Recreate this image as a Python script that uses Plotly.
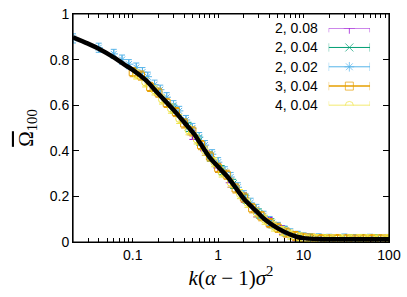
import plotly.graph_objects as go

# ---------------- data ----------------
curve_x = [0.02, 0.03, 0.04, 0.06, 0.08, 0.1, 0.14, 0.2, 0.3, 0.4, 0.52, 0.62, 0.8, 1.0, 1.3, 1.7,
           2.0, 2.8, 3.5, 5.0, 7.0, 8.5, 10, 15, 20, 30, 50, 100]
curve_y = [0.898, 0.87, 0.848, 0.81, 0.778, 0.755, 0.712, 0.65, 0.58, 0.525, 0.475, 0.432, 0.37, 0.33,
           0.284, 0.225, 0.19, 0.135, 0.10, 0.06, 0.033, 0.022, 0.017, 0.013, 0.012, 0.012, 0.012, 0.012]

s1_x = [0.5, 0.7, 1, 1.4, 2, 2.8, 4, 5.6, 8, 11, 16, 22, 32, 45, 63, 90]
s1_y = [0.47, 0.40, 0.325, 0.26, 0.195, 0.13, 0.087, 0.052, 0.025, 0.016, 0.013, 0.012, 0.013, 0.012, 0.012, 0.013]

s2_x = [0.3, 0.45, 0.6, 0.8, 1.1, 1.5, 2.1, 3, 4.2, 6, 8.5, 12, 17, 25, 35, 50, 70, 100]
s2_y = [0.585, 0.505, 0.445, 0.375, 0.315, 0.255, 0.19, 0.125, 0.082, 0.047, 0.024, 0.015, 0.013, 0.012,
        0.012, 0.013, 0.012, 0.012]

s3_x = [0.02, 0.04, 0.06, 0.075, 0.09, 0.11, 0.13, 0.15, 0.18, 0.21, 0.25, 0.3, 0.35, 0.42, 0.5, 0.6, 0.7,
        0.85, 1.0, 1.2, 1.4, 1.7, 2.0, 2.4, 2.8, 3.4, 4.0, 5, 6, 7, 8.5, 10, 15, 20, 30, 40, 60, 80, 100]
s3_y = [0.893, 0.852, 0.825, 0.80, 0.78, 0.765, 0.745, 0.725, 0.69, 0.668, 0.635, 0.60, 0.575, 0.535, 0.50,
        0.46, 0.425, 0.385, 0.35, 0.31, 0.285, 0.24, 0.205, 0.172, 0.145, 0.115, 0.092, 0.066, 0.05, 0.038,
        0.027, 0.02, 0.016, 0.014, 0.015, 0.013, 0.014, 0.012, 0.013]

s4_x = [0.1, 0.125, 0.16, 0.2, 0.25, 0.32, 0.4, 0.5, 0.63, 0.8, 1.0, 1.26, 1.6, 2.0, 2.5, 3.2, 4.0, 5.0,
        6.3, 8, 10, 12.6, 16, 20, 25, 32, 40, 50, 63, 80, 100]
s4_y = [0.745, 0.73, 0.68, 0.655, 0.61, 0.57, 0.52, 0.485, 0.425, 0.375, 0.325, 0.295, 0.235, 0.195, 0.148,
        0.113, 0.083, 0.062, 0.041, 0.026, 0.018, 0.015, 0.013, 0.012, 0.013, 0.012, 0.011, 0.012, 0.013,
        0.012, 0.012]

s5_x = [0.11, 0.14, 0.18, 0.22, 0.28, 0.35, 0.45, 0.56, 0.7, 0.9, 1.1, 1.4, 1.8, 2.2, 2.8, 3.5, 4.5, 5.6,
        7, 9, 11, 14, 18, 22, 28, 35, 45, 56, 70, 90, 100]
s5_y = [0.735, 0.70, 0.665, 0.625, 0.585, 0.54, 0.49, 0.45, 0.40, 0.35, 0.305, 0.26, 0.21, 0.172, 0.13,
        0.098, 0.068, 0.048, 0.032, 0.02, 0.015, 0.013, 0.012, 0.012, 0.011, 0.012, 0.013, 0.012, 0.011,
        0.012, 0.012]

err = 0.02
labels = ["2, 0.08", "2, 0.04", "2, 0.02", "3, 0.04", "4, 0.04"]
colors = ["#9400d3", "#009e73", "#56b4e9", "#e69f00", "#f0e442"]
symbols = ["cross-thin-open", "x-thin-open", "asterisk-open", "square-open", "circle-open"]
series = [(s1_x, s1_y), (s2_x, s2_y), (s3_x, s3_y), (s4_x, s4_y), (s5_x, s5_y)]
major_ticks = [0.1, 1, 10, 100]
major_text = ["0.1", "1", "10", "100"]

fig = go.Figure()
for (sx, sy), c, sym in zip(series, colors, symbols):
    fig.add_trace(go.Scatter(
        x=sx, y=sy, mode="markers",
        marker=dict(symbol=sym, size=7, color=c, line=dict(color=c, width=1)),
        error_y=dict(type="constant", value=err, color=c, thickness=1, width=3),
        showlegend=False, xaxis="x", yaxis="y"))

fig.add_trace(go.Scatter(x=curve_x, y=curve_y, mode="lines", line=dict(color="black", width=4.5, shape="spline"),
                         showlegend=False))

# legend samples on a hidden helper axis
for i, (lab, c, sym) in enumerate(zip(labels, colors, symbols)):
    fig.add_trace(go.Scatter(
        x=[0, 0.5, 1], y=[i, i, i], mode="lines+markers", xaxis="x2", yaxis="y2",
        line=dict(color=c, width=1 if i < 3 else 1.5),
        marker=dict(symbol=["line-ns", sym, "line-ns"], size=[6, 8, 6], color=c,
                    line=dict(color=c, width=1)),
        showlegend=False, hoverinfo="skip"))
    fig.add_annotation(x=0, y=i, xref="x2", yref="y2", text=lab, showarrow=False,
                       xanchor="right", xshift=-9, font=dict(size=14, color="black"))

tick_vals = []
tick_text = []
for dec in [0.01, 0.1, 1, 10]:
    for m in range(1, 10):
        v = round(m * dec, 4)
        if 0.02 <= v <= 100:
            tick_vals.append(v)
            tick_text.append(major_text[major_ticks.index(v)] if v in major_ticks else "")
tick_vals.append(100)
tick_text.append("100")

# plot frame
fig.add_shape(type="rect", xref="paper", yref="paper", x0=0, x1=1, y0=0, y1=1,
              line=dict(color="black", width=1.2), fillcolor="rgba(0,0,0,0)", layer="above")

fig.update_layout(
    width=407, height=297,
    margin=dict(l=73, r=15, t=6, b=55),
    plot_bgcolor="white", paper_bgcolor="white",
    font=dict(family="Liberation Sans, Arial, sans-serif", size=14, color="black"),
    xaxis=dict(type="log", range=[-1.69897, 2], showgrid=False, zeroline=False,
               showline=True, linecolor="black", linewidth=1, mirror="allticks",
               ticks="inside", ticklen=4, tickcolor="black", tickwidth=1,
               tickvals=tick_vals, ticktext=tick_text, ticklabeloverflow="allow",
               title=dict(text="<i>k</i>(<i>α</i> − 1)<i>σ</i><sup>2</sup>",
                          font=dict(family="Liberation Serif, DejaVu Serif, serif", size=21), standoff=6)),
    yaxis=dict(range=[0, 1], showgrid=False, zeroline=False,
               showline=True, linecolor="black", linewidth=1, mirror="allticks",
               ticks="inside", ticklen=6, tickcolor="black", tickwidth=1,
               tickvals=[0, 0.2, 0.4, 0.6, 0.8, 1], ticktext=["0", "0.2", "0.4", "0.6", "0.8", "1"],
               ticklabeloverflow="allow",
               title=dict(text="<span style='text-decoration:overline'>Ω</span><sub>100</sub>",
                          font=dict(family="Liberation Serif, DejaVu Serif, serif", size=21), standoff=10)),
    xaxis2=dict(domain=[0.809, 0.940], range=[0, 1], visible=False, anchor="y2"),
    yaxis2=dict(domain=[0.599, 0.938], range=[4, 0], visible=False, anchor="x2"),
)

fig.write_html("out.html", config={"displayModeBar": False},
               post_script="document.body.style.margin='0';document.body.style.padding='0';")
